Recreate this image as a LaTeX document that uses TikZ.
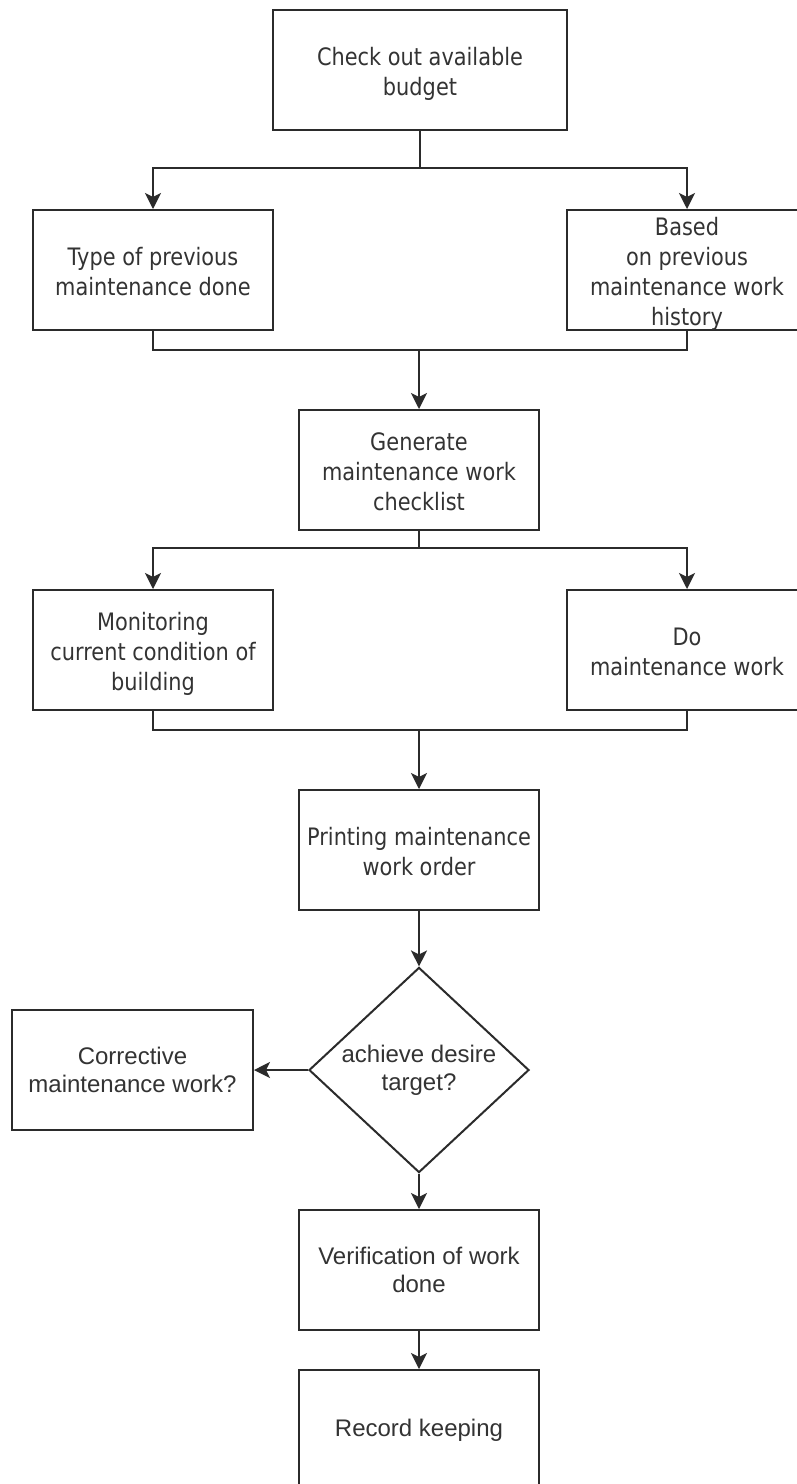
\documentclass[tikz,border=0pt]{standalone}
\usepackage{fontspec}
\setmainfont{Liberation Sans}
\newfontfamily\tahoma[FakeStretch=0.87]{DejaVu Sans}
\usetikzlibrary{shapes.geometric,arrows.meta}
\definecolor{lc}{HTML}{2B2B2B}
\definecolor{tc}{HTML}{333333}
\newcommand{\tlines}[1]{\raisebox{-4pt}[\height][\depth]{\begin{tabular}{@{}c@{}}#1\end{tabular}}}
\begin{document}
\begin{tikzpicture}[x=1pt,y=-1pt,
  box/.style={draw=lc,line width=2pt,minimum width=240pt,minimum height=120pt,inner sep=0pt,align=center,text=tc},
  tfont/.style={font=\tahoma\fontsize{24}{30}\selectfont},
  afont/.style={font=\fontsize{24}{28}\selectfont},
  arr/.style={draw=lc,line width=2pt,-{Stealth[length=16pt,width=16pt,inset=4pt]}},
  ln/.style={draw=lc,line width=2pt}]
\useasboundingbox (0,0) rectangle (797,1484);
\clip (0,0) rectangle (797,1484);
\fill[white] (0,0) rectangle (797,1484);

\node[box,tfont,minimum width=294pt] (b1) at (420,70) {\tlines{Check out available\\budget}};
\node[box,tfont] (b2) at (153,270) {\tlines{Type of previous\\maintenance done}};
\node[box,tfont] (b3) at (687,270) {\tlines{Based\\on previous\\maintenance work\\history}};
\node[box,tfont] (b4) at (419,470) {\tlines{Generate\\maintenance work\\checklist}};
\node[box,tfont] (b5) at (153,650) {\tlines{Monitoring\\current condition of\\building}};
\node[box,tfont] (b6) at (687,650) {\tlines{Do\\maintenance work}};
\node[box,tfont] (b7) at (419,850) {\tlines{Printing maintenance\\work order}};
\node[diamond,draw=lc,line width=2pt,minimum width=220pt,minimum height=200pt,inner sep=0pt,align=center,text=tc,afont] (d) at (419,1070) {achieve desire\\target?};
\node[box,afont,minimum width=241pt] (b8) at (132.5,1070) {Corrective\\maintenance work?};
\node[box,afont] (b9) at (419,1270) {Verification of work\\done};
\node[box,afont] (b10) at (419,1430) {Record keeping};

\coordinate (s1) at (420,168);
\coordinate (m1) at (419,350);
\coordinate (s2) at (419,548);
\coordinate (m2) at (419,730);

\draw[ln] (b1.south) -- (s1);
\draw[arr] (s1) -| (b2.north);
\draw[arr] (s1) -| (b3.north);
\draw[ln] (b2.south) |- (m1) -| (b3.south);
\draw[arr] (m1) -- (b4.north);
\draw[ln] (b4.south) -- (s2);
\draw[arr] (s2) -| (b5.north);
\draw[arr] (s2) -| (b6.north);
\draw[ln] (b5.south) |- (m2) -| (b6.south);
\draw[arr] (m2) -- (b7.north);
\draw[arr] (b7.south) -- (d.north);
\draw[arr] (d.west) -- (b8.east);
\draw[arr] (d.south) -- (b9.north);
\draw[arr] (b9.south) -- (b10.north);
\end{tikzpicture}
\end{document}
